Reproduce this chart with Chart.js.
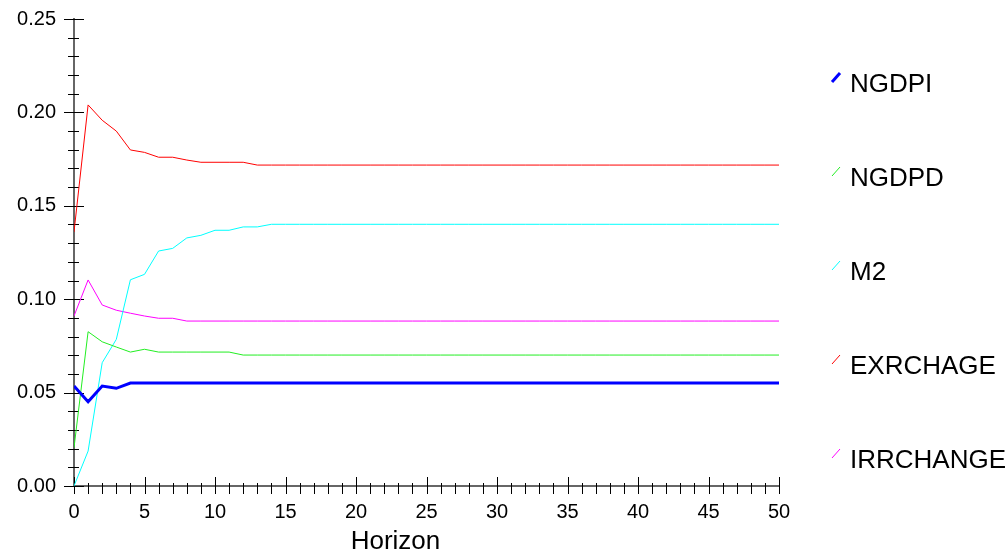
<!DOCTYPE html>
<html>
<head>
<meta charset="utf-8">
<script src="https://cdn.jsdelivr.net/npm/chart.js@4"></script>
<style>
  html, body { margin: 0; padding: 0; background: #fff; }
  #wrap { width: 1008px; height: 552px; position: relative; }
</style>
</head>
<body>
<div id="wrap"><canvas id="grafico"></canvas></div>
<script>
// --- datos ---
const horizons = [
  0, 1, 2, 3, 4, 5, 6, 7, 8, 9,
  10, 11, 12, 13, 14, 15, 16, 17, 18, 19,
  20, 21, 22, 23, 24, 25, 26, 27, 28, 29,
  30, 31, 32, 33, 34, 35, 36, 37, 38, 39,
  40, 41, 42, 43, 44, 45, 46, 47, 48, 49,
  50
];

const ngdpi = [
  0.0535, 0.0451, 0.0535, 0.0523, 0.0551, 0.0551, 0.0551, 0.0551, 0.0551, 0.0551,
  0.0551, 0.0551, 0.0551, 0.0551, 0.0551, 0.0551, 0.0551, 0.0551, 0.0551, 0.0551,
  0.0551, 0.0551, 0.0551, 0.0551, 0.0551, 0.0551, 0.0551, 0.0551, 0.0551, 0.0551,
  0.0551, 0.0551, 0.0551, 0.0551, 0.0551, 0.0551, 0.0551, 0.0551, 0.0551, 0.0551,
  0.0551, 0.0551, 0.0551, 0.0551, 0.0551, 0.0551, 0.0551, 0.0551, 0.0551, 0.0551,
  0.0551
];

const ngdpd = [
  0.0205, 0.0826, 0.0772, 0.0744, 0.0717, 0.0732, 0.0717, 0.0717, 0.0717, 0.0717,
  0.0717, 0.0717, 0.0701, 0.0701, 0.0701, 0.0701, 0.0701, 0.0701, 0.0701, 0.0701,
  0.0701, 0.0701, 0.0701, 0.0701, 0.0701, 0.0701, 0.0701, 0.0701, 0.0701, 0.0701,
  0.0701, 0.0701, 0.0701, 0.0701, 0.0701, 0.0701, 0.0701, 0.0701, 0.0701, 0.0701,
  0.0701, 0.0701, 0.0701, 0.0701, 0.0701, 0.0701, 0.0701, 0.0701, 0.0701, 0.0701,
  0.0701
];

const m2 = [
  0.0000, 0.0187, 0.0660, 0.0785, 0.1104, 0.1133, 0.1258, 0.1272, 0.1328, 0.1342,
  0.1369, 0.1369, 0.1387, 0.1387, 0.1401, 0.1401, 0.1401, 0.1401, 0.1401, 0.1401,
  0.1401, 0.1401, 0.1401, 0.1401, 0.1401, 0.1401, 0.1401, 0.1401, 0.1401, 0.1401,
  0.1401, 0.1401, 0.1401, 0.1401, 0.1401, 0.1401, 0.1401, 0.1401, 0.1401, 0.1401,
  0.1401, 0.1401, 0.1401, 0.1401, 0.1401, 0.1401, 0.1401, 0.1401, 0.1401, 0.1401,
  0.1401
];

const exrchage = [
  0.1360, 0.2040, 0.1958, 0.1900, 0.1799, 0.1786, 0.1760, 0.1760, 0.1745, 0.1733,
  0.1733, 0.1733, 0.1733, 0.1718, 0.1718, 0.1718, 0.1718, 0.1718, 0.1718, 0.1718,
  0.1718, 0.1718, 0.1718, 0.1718, 0.1718, 0.1718, 0.1718, 0.1718, 0.1718, 0.1718,
  0.1718, 0.1718, 0.1718, 0.1718, 0.1718, 0.1718, 0.1718, 0.1718, 0.1718, 0.1718,
  0.1718, 0.1718, 0.1718, 0.1718, 0.1718, 0.1718, 0.1718, 0.1718, 0.1718, 0.1718,
  0.1718
];

const irrchange = [
  0.0910, 0.1103, 0.0969, 0.0941, 0.0925, 0.0910, 0.0898, 0.0898, 0.0883, 0.0883,
  0.0883, 0.0883, 0.0883, 0.0883, 0.0883, 0.0883, 0.0883, 0.0883, 0.0883, 0.0883,
  0.0883, 0.0883, 0.0883, 0.0883, 0.0883, 0.0883, 0.0883, 0.0883, 0.0883, 0.0883,
  0.0883, 0.0883, 0.0883, 0.0883, 0.0883, 0.0883, 0.0883, 0.0883, 0.0883, 0.0883,
  0.0883, 0.0883, 0.0883, 0.0883, 0.0883, 0.0883, 0.0883, 0.0883, 0.0883, 0.0883,
  0.0883
];

const seriesNames = ['NGDPI', 'NGDPD', 'M2', 'EXRCHAGE', 'IRRCHANGE'];
const seriesValues = [ngdpi, ngdpd, m2, exrchage, irrchange];
const seriesColors = ['#0000ff', '#22ee22', '#00ffff', '#ff0000', '#ff00ff'];
const seriesWidths = [3, 1, 1, 1, 1];
const xTitle = 'Horizon';

const FONT = '"Liberation Sans", Arial, Helvetica, sans-serif';

// --- plugins propios: marcas de ejes cruzadas, titulo X y leyenda a la derecha ---
const marcasEjes = {
  id: 'marcasEjes',
  beforeDatasetsDraw(chart) {
    const ctx = chart.ctx;
    const xs = chart.scales.x, ys = chart.scales.y;
    const ax = xs.left, ay = ys.bottom;
    ctx.save();
    ctx.strokeStyle = '#000';
    ctx.lineWidth = 1;
    ctx.beginPath();
    ys.ticks.forEach(t => {
      const y = Math.round(ys.getPixelForValue(t.value)) + 0.5;
      const mayor = Math.round(t.value * 100) % 5 === 0;
      ctx.moveTo(ax - (mayor ? 10 : 6), y);
      ctx.lineTo(ax + (mayor ? 10 : 5), y);
    });
    xs.ticks.forEach(t => {
      const x = Math.round(xs.getPixelForValue(t.value)) + 0.5;
      const mayor = Math.round(t.value) % 5 === 0;
      ctx.moveTo(x, ay - (mayor ? 9 : 3));
      ctx.lineTo(x, ay + 8);
    });
    ctx.stroke();

    // titulo del eje X, algo a la izquierda del centro como en el original
    ctx.fillStyle = '#000';
    ctx.font = '26px ' + FONT;
    ctx.textAlign = 'center';
    ctx.textBaseline = 'middle';
    ctx.fillText(xTitle, xs.getPixelForValue(22.8), 542);
    ctx.restore();
  }
};

const leyendaDerecha = {
  id: 'leyendaDerecha',
  afterDraw(chart) {
    const ctx = chart.ctx;
    ctx.save();
    chart.data.datasets.forEach((ds, i) => {
      const y = 85 + i * 94;
      ctx.strokeStyle = ds.borderColor;
      ctx.lineWidth = ds.borderWidth;
      ctx.beginPath();
      ctx.moveTo(832, y - 3);
      ctx.lineTo(840, y - 12);
      ctx.stroke();
      ctx.fillStyle = '#000';
      ctx.font = '26px ' + FONT;
      ctx.textAlign = 'left';
      ctx.textBaseline = 'middle';
      ctx.fillText(ds.label, 850, y);
    });
    ctx.restore();
  }
};

const datasets = seriesNames.map((name, i) => ({
  label: name,
  data: horizons.map((h, j) => ({ x: h, y: seriesValues[i][j] })),
  borderColor: seriesColors[i],
  backgroundColor: seriesColors[i],
  borderWidth: seriesWidths[i],
  pointRadius: 0,
  fill: false,
  tension: 0
}));

new Chart(document.getElementById('grafico'), {
  type: 'line',
  data: { datasets },
  plugins: [marcasEjes, leyendaDerecha],
  options: {
    responsive: true,
    maintainAspectRatio: false,
    animation: false,
    layout: { padding: { left: 0, right: 229, top: 19, bottom: 0 } },
    plugins: { legend: { display: false }, tooltip: { enabled: false } },
    scales: {
      x: {
        type: 'linear',
        min: 0,
        max: 50,
        afterFit(scale) { scale.height = 66; },
        grid: { display: true, drawOnChartArea: false, drawTicks: false },
        border: { display: true, color: '#666', width: 2 },
        ticks: {
          stepSize: 1,
          autoSkip: false,
          maxRotation: 0,
          padding: 14,
          color: '#000',
          font: { family: FONT, size: 20 },
          callback: v => (Math.round(v) % 5 === 0 ? String(Math.round(v)) : '')
        }
      },
      y: {
        min: 0,
        max: 0.25,
        afterFit(scale) {
          scale.width = 74;
          scale.paddingTop = 0;
          scale.paddingBottom = 0;
        },
        grid: { display: true, drawOnChartArea: false, drawTicks: false },
        border: { display: true, color: '#666', width: 2 },
        ticks: {
          stepSize: 0.01,
          autoSkip: false,
          padding: 18,
          color: '#000',
          font: { family: FONT, size: 20 },
          callback: v => (Math.round(v * 100) % 5 === 0 ? v.toFixed(2) : '')
        }
      }
    }
  }
});
</script>
</body>
</html>
